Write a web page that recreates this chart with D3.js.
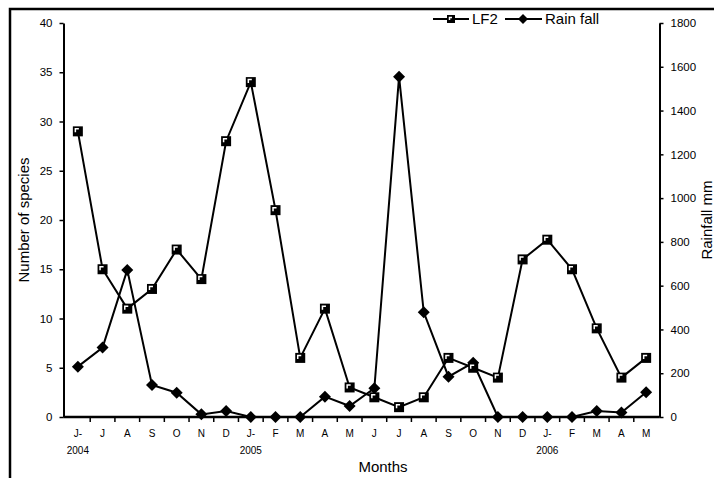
<!DOCTYPE html>
<html>
<head>
<meta charset="utf-8">
<script src="https://cdn.jsdelivr.net/npm/d3@7"></script>
<style>
  body { margin: 0; background: #fff; }
  svg { display: block; font-family: "Liberation Sans", Arial, sans-serif; }
</style>
</head>
<body>
<svg id="chart" width="714" height="478"></svg>
<script>
const months = ['J-', 'J', 'A', 'S', 'O', 'N', 'D', 'J-', 'F', 'M', 'A', 'M',
  'J', 'J', 'A', 'S', 'O', 'N', 'D', 'J-', 'F', 'M', 'A', 'M'];
const years = [{i: 0, label: '2004'}, {i: 7, label: '2005'}, {i: 19, label: '2006'}];
const lf2 = [29, 15, 11, 13, 17, 14, 28, 34, 21, 6, 11, 3, 2, 1, 2, 6, 5, 4, 16, 18, 15, 9, 4, 6];
const rainfall = [230, 317, 672, 146, 111, 12, 27, 0, 0, 0, 93, 50, 131, 1555, 478, 184, 248, 0, 0, 0, 0, 27, 21, 113];
const leftTicks = [0, 5, 10, 15, 20, 25, 30, 35, 40];
const rightTicks = [0, 200, 400, 600, 800, 1000, 1200, 1400, 1600, 1800];

const svg = d3.select('#chart');
const idx = d3.range(months.length);

const x = d3.scaleBand().domain(idx).range([65.5, 658.5]);
const cx = (i) => x(i) + x.bandwidth() / 2;
const yL = d3.scaleLinear().domain([0, 40]).range([417, 23]);
const yR = d3.scaleLinear().domain([0, 1800]).range([417, 23]);
const left = 63.5, right = 659.5;

// outer frame (cropped on the right and bottom)
svg.append('rect')
  .attr('x', 10).attr('y', 9)
  .attr('width', 800).attr('height', 600)
  .attr('fill', 'none').attr('stroke', '#000').attr('stroke-width', 2.5);

// left axis
const gl = svg.append('g').attr('transform', `translate(${left},0)`)
  .call(d3.axisLeft(yL).tickValues(leftTicks).tickFormat(d3.format('d')).tickSize(4).tickSizeOuter(0));
gl.select('.domain').attr('stroke-width', 2);
gl.selectAll('.tick line').attr('stroke-width', 1.5);
gl.selectAll('.tick text').attr('font-size', 11.5).attr('font-family', null).attr('x', -11);

// right axis
const gr = svg.append('g').attr('transform', `translate(${right},0)`)
  .call(d3.axisRight(yR).tickValues(rightTicks).tickFormat(d3.format('d')).tickSize(4).tickSizeOuter(0));
gr.select('.domain').attr('stroke-width', 2);
gr.selectAll('.tick line').attr('stroke-width', 1.5);
gr.selectAll('.tick text').attr('font-size', 11.5).attr('font-family', null).attr('x', 11);

// x axis line and ticks between months
svg.append('line')
  .attr('x1', left).attr('x2', right).attr('y1', 417).attr('y2', 417)
  .attr('stroke', '#000').attr('stroke-width', 2.5);
svg.selectAll('.xtick')
  .data(idx.slice(1))
  .enter().append('line')
  .attr('class', 'xtick')
  .attr('x1', (d) => x(d)).attr('x2', (d) => x(d))
  .attr('y1', 417).attr('y2', 422)
  .attr('stroke', '#000').attr('stroke-width', 1.5);

svg.selectAll('.mlabel')
  .data(months)
  .enter().append('text')
  .attr('class', 'mlabel')
  .attr('x', (d, i) => cx(i))
  .attr('y', 437)
  .attr('text-anchor', 'middle')
  .attr('font-size', 10)
  .text((d) => d);

svg.selectAll('.ylabel')
  .data(years)
  .enter().append('text')
  .attr('class', 'ylabel')
  .attr('x', (d) => cx(d.i))
  .attr('y', 454)
  .attr('text-anchor', 'middle')
  .attr('font-size', 10)
  .text((d) => d.label);

// axis titles
svg.append('text')
  .attr('x', 383).attr('y', 472)
  .attr('text-anchor', 'middle').attr('font-size', 15)
  .text('Months');
svg.append('text')
  .attr('transform', 'translate(29,220) rotate(-90)')
  .attr('text-anchor', 'middle').attr('font-size', 15)
  .text('Number of species');
svg.append('text')
  .attr('transform', 'translate(712,220) rotate(-90)')
  .attr('text-anchor', 'middle').attr('font-size', 15)
  .text('Rainfall mm');

// series lines
const lineL = d3.line().x((d, i) => cx(i)).y((d) => yL(d));
const lineR = d3.line().x((d, i) => cx(i)).y((d) => yR(d));

svg.append('path').datum(rainfall)
  .attr('d', lineR).attr('fill', 'none')
  .attr('stroke', '#000').attr('stroke-width', 2);
svg.append('path').datum(lf2)
  .attr('d', lineL).attr('fill', 'none')
  .attr('stroke', '#000').attr('stroke-width', 2);

function diamond(g, px, py, r) {
  g.append('path')
    .attr('d', `M${px},${py - r}L${px + r},${py}L${px},${py + r}L${px - r},${py}Z`)
    .attr('fill', '#000');
}
function square(g, px, py, r) {
  g.append('rect')
    .attr('x', px - r).attr('y', py - r)
    .attr('width', 2 * r).attr('height', 2 * r)
    .attr('fill', '#000');
  g.append('path')
    .attr('d', `M${px - r + 2.5},${py + 1}V${py - r + 2.5}H${px + 1}`)
    .attr('fill', 'none').attr('stroke', '#fff').attr('stroke-width', 1.5);
}

const marks = svg.append('g');
rainfall.forEach((d, i) => diamond(marks, cx(i), yR(d), 6));
lf2.forEach((d, i) => square(marks, cx(i), yL(d), 5));

// legend
const lg = svg.append('g');
lg.append('line').attr('x1', 433).attr('x2', 469).attr('y1', 19).attr('y2', 19)
  .attr('stroke', '#000').attr('stroke-width', 2);
square(lg, 451, 19, 4);
lg.append('text').attr('x', 472).attr('y', 24).attr('font-size', 15).text('LF2');
lg.append('line').attr('x1', 505).attr('x2', 542).attr('y1', 19).attr('y2', 19)
  .attr('stroke', '#000').attr('stroke-width', 2);
diamond(lg, 523, 19, 5);
lg.append('text').attr('x', 545).attr('y', 24).attr('font-size', 15).text('Rain fall');
</script>
</body>
</html>
